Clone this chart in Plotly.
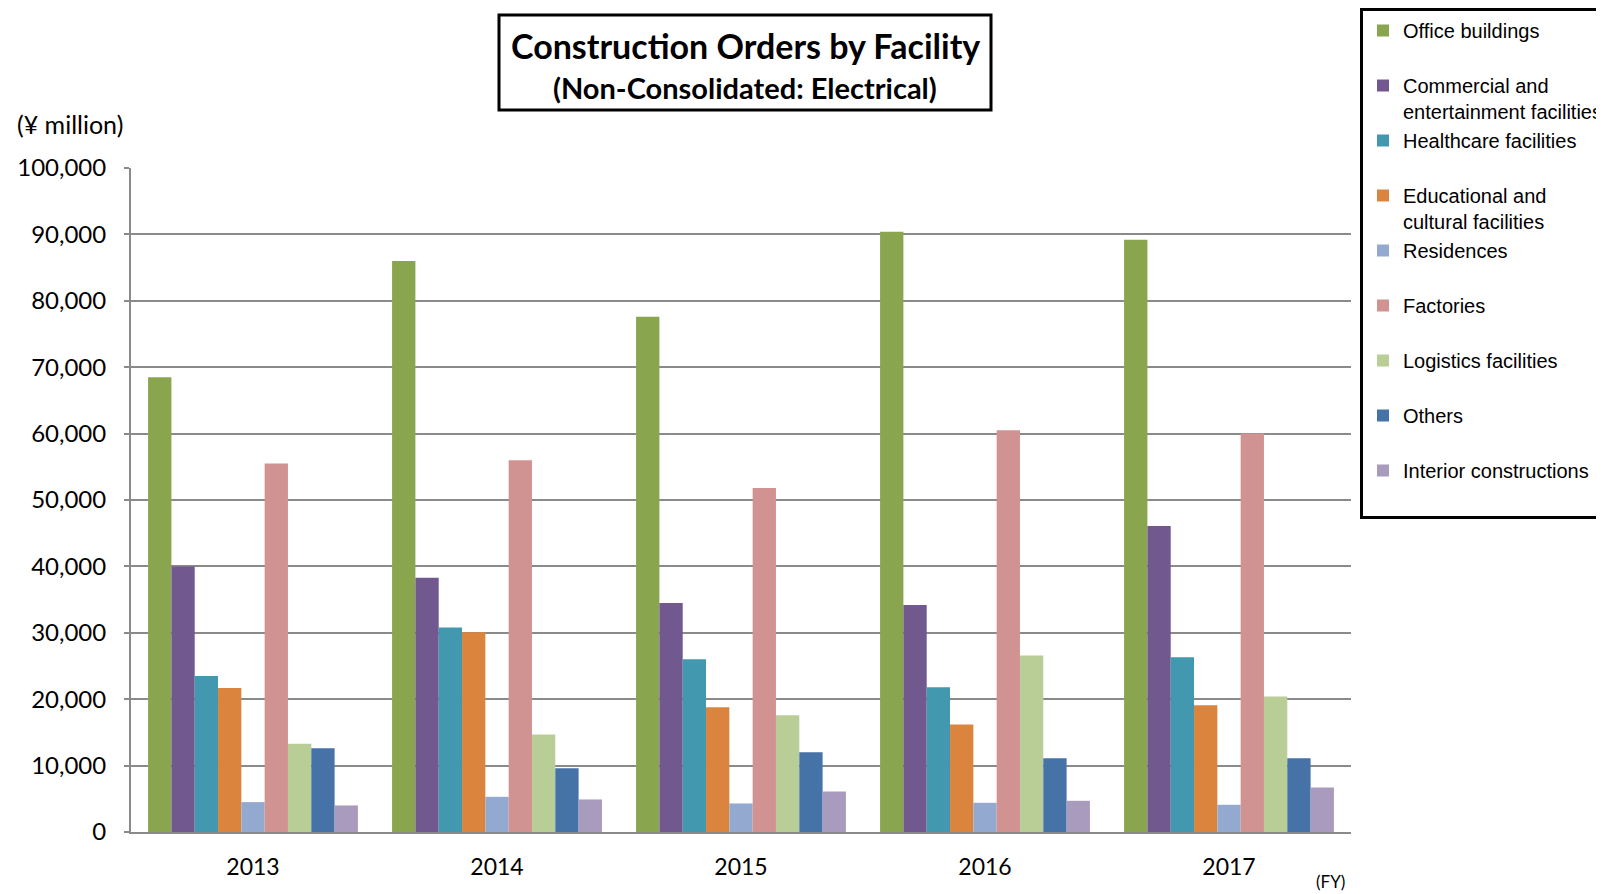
import plotly.graph_objects as go

# Construction orders by facility, non-consolidated electrical (¥ million)
years = ['2013', '2014', '2015', '2016', '2017']
office = [68500, 86000, 77600, 90400, 89200]
commercial = [40000, 38300, 34500, 34200, 46100]
healthcare = [23500, 30800, 26000, 21800, 26300]
educational = [21700, 30100, 18800, 16200, 19100]
residences = [4500, 5300, 4300, 4400, 4100]
factories = [55500, 56000, 51800, 60500, 60000]
logistics = [13300, 14700, 17600, 26600, 20400]
others = [12600, 9600, 12000, 11100, 11100]
interior = [4000, 4900, 6100, 4700, 6700]

series_names = ['Office buildings', 'Commercial and<br>entertainment facilities',
                'Healthcare facilities', 'Educational and<br>cultural facilities',
                'Residences', 'Factories', 'Logistics facilities', 'Others',
                'Interior constructions']
series_values = [office, commercial, healthcare, educational, residences,
                 factories, logistics, others, interior]
colours = ['#89A54E', '#71588F', '#4198AF', '#DB843D', '#93A9CF',
           '#D19392', '#B9CD96', '#4572A7', '#A99BBD']

# the page body has an 8px margin, so the figure is drawn 8px smaller
OFF = 8
W, H = 1604 - OFF, 894 - OFF
# plot area edges in page pixels
L, R, T, B = 131 - OFF, 1351 - OFF, 168 - OFF, 832 - OFF


def xp(px):
    # page pixel -> paper x
    return (px - OFF - L) / (R - L)


def yp(py):
    # page pixel -> paper y
    return (B - (py - OFF)) / (B - T)


fig = go.Figure()
for name, vals, col in zip(series_names, series_values, colours):
    # every legend entry on two lines so they are spaced evenly
    label = name if '<br>' in name else name + '<br> '
    fig.add_trace(go.Bar(x=years, y=vals, name=label, marker=dict(color=col, line=dict(width=0))))

grey = '#8a8a8a'
fig.update_layout(
    width=W, height=H,
    barmode='group', bargap=0.14, bargroupgap=0,
    plot_bgcolor='white', paper_bgcolor='white',
    margin=dict(l=L, r=W - R, t=T, b=H - B, autoexpand=False),
    font=dict(family='Lato', color='black'),
    xaxis=dict(showline=True, linecolor=grey, linewidth=2, ticks='',
               tickfont=dict(family='Lato', size=23, color='black'),
               ticklabelstandoff=13),
    yaxis=dict(range=[0, 100000], dtick=10000, tickformat=',d',
               showgrid=True, gridcolor=grey, gridwidth=2, zeroline=False,
               showline=True, linecolor=grey, linewidth=2,
               ticks='outside', ticklen=5, tickcolor=grey, tickwidth=2,
               tickfont=dict(family='Lato', size=24, color='black'),
               ticklabelstandoff=13),
    legend=dict(xref='container', yref='container',
                x=(1360 - OFF) / W, y=1,
                xanchor='left', yanchor='top', maxheight=800,
                valign='top', bgcolor='white', bordercolor='black', borderwidth=3,
                font=dict(family='Liberation Sans', size=20, color='black'),
                traceorder='normal'),
    showlegend=True,
)

# title box
fig.add_shape(type='rect', xref='paper', yref='paper',
              x0=xp(499), x1=xp(991), y0=yp(110), y1=yp(15),
              line=dict(color='black', width=3), fillcolor='white')
fig.add_annotation(text='<b>Construction Orders by Facility</b>', xref='paper', yref='paper',
                   x=xp(745), y=yp(46), xanchor='center', yanchor='middle', showarrow=False,
                   font=dict(family='Lato', size=34, color='black'))
fig.add_annotation(text='<b>(Non-Consolidated: Electrical)</b>', xref='paper', yref='paper',
                   x=xp(745), y=yp(87), xanchor='center', yanchor='middle', showarrow=False,
                   font=dict(family='Lato', size=29, color='black'))

# unit labels
fig.add_annotation(text='(¥ million)', xref='paper', yref='paper',
                   x=xp(15), y=yp(124), xanchor='left', yanchor='middle', showarrow=False,
                   font=dict(family='Lato', size=25, color='black'))
fig.add_annotation(text='(FY)', xref='paper', yref='paper',
                   x=xp(1314), y=yp(881), xanchor='left', yanchor='middle', showarrow=False,
                   font=dict(family='Lato', size=17, color='black'))

fig.write_html("out.html")
